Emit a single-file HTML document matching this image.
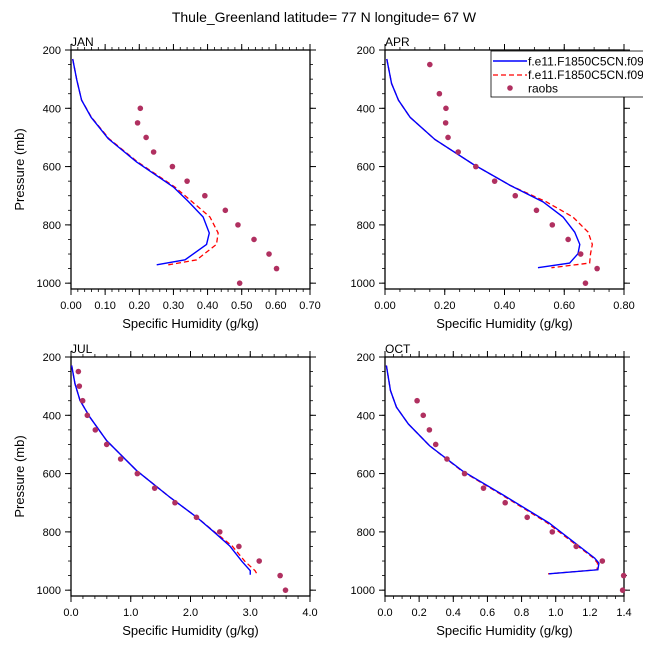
<!DOCTYPE html>
<html><head><meta charset="utf-8"><style>
body{margin:0;background:#fff;}
svg{display:block;font-family:"Liberation Sans",sans-serif;}
</style></head><body>
<svg id="chart" width="648" height="648" viewBox="0 0 648 648">
<text x="324" y="22" text-anchor="middle" font-size="14">Thule_Greenland  latitude= 77 N longitude= 67 W</text>
</svg>
<script>
// ---- data ----
const janModelP = [231,303,372,431,504,584,670,719,773,828,867,920,937];
const janBlue   = [0.005,0.017,0.031,0.059,0.109,0.192,0.300,0.343,0.387,0.405,0.397,0.334,0.251];
const janRed    = [0.005,0.017,0.031,0.060,0.111,0.195,0.304,0.353,0.407,0.431,0.426,0.368,0.285];
const aprModelP = [231,315,372,431,507,592,664,721,773,825,867,899,931,947];
const aprBlue   = [0.006,0.022,0.045,0.084,0.167,0.295,0.418,0.529,0.596,0.635,0.652,0.646,0.618,0.512];
const aprRed    = [0.006,0.022,0.045,0.084,0.167,0.295,0.418,0.540,0.629,0.680,0.694,0.688,0.685,0.557];
const julModelP = [229,292,349,407,487,590,682,749,798,849,901,933,947];
const julBlue   = [0.011,0.067,0.151,0.318,0.597,1.10,1.66,2.10,2.38,2.66,2.86,3.00,3.00];
const julRed    = [0.011,0.067,0.151,0.318,0.597,1.10,1.66,2.10,2.39,2.70,2.91,3.08,3.12];
const octModelP = [229,315,372,430,505,591,677,769,890,907,930,944];
const octBlue   = [0.008,0.032,0.067,0.137,0.262,0.454,0.702,0.960,1.228,1.253,1.247,0.960];
const octRed    = [0.008,0.032,0.067,0.137,0.262,0.450,0.695,0.950,1.222,1.245,1.242,0.955];
const obsP      = [250,300,350,400,450,500,550,600,650,700,750,800,850,900,950,1000];
const janObs    = [null,null,null,0.203,0.195,0.220,0.242,0.297,0.340,0.392,0.452,0.489,0.536,0.580,0.602,0.494];
const aprObs    = [0.150,null,0.182,0.204,0.203,0.211,0.245,0.304,0.367,0.436,0.507,0.560,0.613,0.655,0.710,0.671];
const julObs    = [0.123,0.139,0.195,0.273,0.407,0.597,0.831,1.11,1.40,1.74,2.10,2.49,2.81,3.15,3.50,3.59];
const octObs    = [null,null,0.188,0.224,0.260,0.297,0.363,0.466,0.577,0.704,0.833,0.980,1.120,1.273,1.398,1.392];
const janXTicks = ["0.00","0.10","0.20","0.30","0.40","0.50","0.60","0.70"];
const aprXTicks = ["0.00","0.20","0.40","0.60","0.80"];
const julXTicks = ["0.0","1.0","2.0","3.0","4.0"];
const octXTicks = ["0.0","0.2","0.4","0.6","0.8","1.0","1.2","1.4"];
const yTicks    = [200,400,600,800,1000];
const legendLabels = ["f.e11.F1850C5CN.f09","f.e11.F1850C5CN.f09","raobs"];

const NS="http://www.w3.org/2000/svg";
const svg=document.getElementById('chart');
function mk(tag,attrs,parent){const e=document.createElementNS(NS,tag);for(const k in attrs)e.setAttribute(k,attrs[k]);(parent||svg).appendChild(e);return e;}

const panels=[
 {name:'jan',label:'JAN',x0:71,y0:50,xmax:0.7,ticks:janXTicks,minor:0.02,p:janModelP,b:janBlue,r:janRed,o:janObs,left:true},
 {name:'apr',label:'APR',x0:385,y0:50,xmax:0.8,ticks:aprXTicks,minor:0.05,p:aprModelP,b:aprBlue,r:aprRed,o:aprObs,left:false},
 {name:'jul',label:'JUL',x0:71,y0:357,xmax:4.0,ticks:julXTicks,minor:0.2,p:julModelP,b:julBlue,r:julRed,o:julObs,left:true},
 {name:'oct',label:'OCT',x0:385,y0:357,xmax:1.4,ticks:octXTicks,minor:0.05,p:octModelP,b:octBlue,r:octRed,o:octObs,left:false}
];
const W=239,H=239,PMIN=200,PMAX=1020;
panels.forEach(pn=>{
 const g=mk('g',{});
 
 
 const xs=v=>pn.x0+v/pn.xmax*W;
 const ys=p=>pn.y0+(p-PMIN)/(PMAX-PMIN)*H;
 const frame=mk('rect',{x:pn.x0,y:pn.y0,width:W,height:H,fill:'none',stroke:'#000','stroke-width':1.3},g);
 
 
 const step=pn.xmax/(pn.ticks.length-1);
 const nMin=Math.round(pn.xmax/pn.minor);
 for(let i=0;i<=nMin;i++){const x=xs(i*pn.minor);
  mk('line',{x1:x,x2:x,y1:pn.y0,y2:pn.y0-3,stroke:'#000','stroke-width':0.8},g);
  mk('line',{x1:x,x2:x,y1:pn.y0+H,y2:pn.y0+H+3,stroke:'#000','stroke-width':0.8},g);}
 pn.ticks.forEach((t,i)=>{const x=xs(i*step);
  mk('line',{x1:x,x2:x,y1:pn.y0,y2:pn.y0-6,stroke:'#000','stroke-width':1},g);
  mk('line',{x1:x,x2:x,y1:pn.y0+H,y2:pn.y0+H+6,stroke:'#000','stroke-width':1},g);
  const tl=mk('text',{x:x,y:pn.y0+H+20,'text-anchor':'middle','font-size':11},g);tl.textContent=t;
  
  });
 for(let p=250;p<=1000;p+=50){const y=ys(p);
  mk('line',{x1:pn.x0,x2:pn.x0-3,y1:y,y2:y,stroke:'#000','stroke-width':0.8},g);
  mk('line',{x1:pn.x0+W,x2:pn.x0+W+3,y1:y,y2:y,stroke:'#000','stroke-width':0.8},g);}
 yTicks.forEach(p=>{const y=ys(p);
  mk('line',{x1:pn.x0,x2:pn.x0-6,y1:y,y2:y,stroke:'#000','stroke-width':1},g);
  mk('line',{x1:pn.x0+W,x2:pn.x0+W+6,y1:y,y2:y,stroke:'#000','stroke-width':1},g);
  const tl=mk('text',{x:pn.x0-10,y:y+4,'text-anchor':'end','font-size':11},g);tl.textContent=p;
  
  });
 const lab=mk('text',{x:pn.x0,y:pn.y0-4,'font-size':12},g);lab.textContent=pn.label;
 
 
 const xt=mk('text',{x:pn.x0+W/2,y:pn.y0+H+39,'text-anchor':'middle','font-size':13},g);xt.textContent='Specific Humidity (g/kg)';
 
 
 if(pn.left){const yc=pn.y0+H/2;const yt=mk('text',{x:24,y:yc,'text-anchor':'middle','font-size':13,transform:`rotate(-90 24 ${yc})`},g);yt.textContent='Pressure (mb)';
  
  }
 const rd=mk('polyline',{points:pn.p.map((p,i)=>xs(pn.r[i])+','+ys(p)).join(' '),fill:'none',stroke:'#ff0000','stroke-width':1.3,'stroke-dasharray':'5,3'},g);
 
 
 const bl=mk('polyline',{points:pn.p.map((p,i)=>xs(pn.b[i])+','+ys(p)).join(' '),fill:'none',stroke:'#0000ff','stroke-width':1.4},g);
 
 
 obsP.forEach((p,i)=>{if(pn.o[i]==null)return;
  const c=mk('circle',{cx:xs(pn.o[i]),cy:ys(p),r:2.8,fill:'#b03060'},g);
  
  });
});
const lg=mk('g',{});


mk('rect',{x:491,y:51,width:160,height:46,fill:'#fff',stroke:'#000','stroke-width':0.8},lg);
mk('line',{x1:493,x2:527,y1:61,y2:61,stroke:'#0000ff','stroke-width':1.4},lg);
mk('line',{x1:493,x2:527,y1:75,y2:75,stroke:'#ff0000','stroke-width':1.3,'stroke-dasharray':'5,3'},lg);
mk('circle',{cx:510,cy:88,r:2.8,fill:'#b03060'},lg);
legendLabels.forEach((t,i)=>{const e=mk('text',{x:528,y:65.5+i*13.5,'font-size':12},lg);e.textContent=t;
 
 });
mk('rect',{x:643,y:45,width:5,height:60,fill:'#fff'},lg);
</script>
</body></html>
